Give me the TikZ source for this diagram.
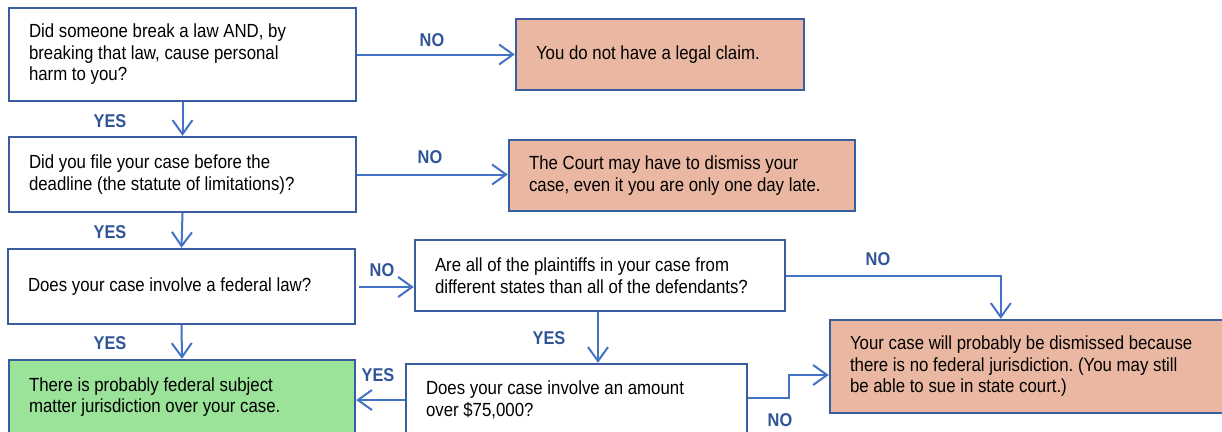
\documentclass[tikz,border=0pt]{standalone}
\usepackage{fontspec}
\setmainfont{Liberation Sans}[FakeStretch=0.885]
\usetikzlibrary{arrows.meta,calc}
\definecolor{boxblue}{HTML}{3A5DA0}
\definecolor{arrblue}{HTML}{4472C4}
\definecolor{lblblue}{HTML}{2F5597}
\definecolor{salmon}{HTML}{EAB8A2}
\definecolor{okgreen}{HTML}{9AE399}
\tikzset{
  qbox/.style n args={2}{draw=boxblue, line width=2.4pt, fill=white,
    minimum width=#1, minimum height=#2, text width=#1-40pt,
    inner xsep=20pt, inner ysep=0pt, align=flush left, anchor=center,
    font=\fontsize{19}{21.5}\selectfont},
  nobox/.style n args={2}{qbox={#1}{#2}, fill=salmon},
  yesbox/.style n args={2}{qbox={#1}{#2}, fill=okgreen},
  conn/.style={draw=arrblue, line width=2pt, -{Straight Barb[length=14pt,width=20pt,line width=2pt]}},
  lbl/.style={text=lblblue, font=\fontsize{18.5}{18.5}\bfseries\selectfont, inner sep=0pt}
}
\begin{document}
\frenchspacing
\begin{tikzpicture}[x=1pt,y=-1pt]
\useasboundingbox (0,0) rectangle (1222,431);
% boxes
\node[qbox={347pt}{93pt}] (A) at (182.5,54.5) {Did someone break a law AND, by\\breaking that law, cause personal\\harm to you?};
\node[nobox={288pt}{71pt}] (B) at (660,54.5) {You do not have a legal claim.};
\node[qbox={347pt}{75pt}] (C) at (182.5,174.5) {Did you file your case before the\\deadline (the statute of limitations)?};
\node[nobox={346pt}{71pt}] (D) at (682,175.5) {The Court may have to dismiss your\\case, even it you are only one day late.};
\node[qbox={347pt}{75pt}] (E) at (181.5,286.5) {Does your case involve a federal law?};
\node[qbox={370pt}{71pt}] (F) at (600,275.5) {Are all of the plaintiffs in your case from\\different states than all of the defendants?};
\node[nobox={396pt}{93pt}] (G) at (1028,366.5) {Your case will probably be dismissed because\\there is no federal jurisdiction. (You may still\\be able to sue in state court.)};
\node[qbox={341pt}{72pt}] (H) at (576.5,400) {Does your case involve an amount\\over \$75,000?};
\node[yesbox={346pt}{74pt}] (I) at (182,397) {There is probably federal subject\\matter jurisdiction over your case.};
% connectors
\draw[conn] (A.east) -- (B.west);
\node[lbl] (nA) at (432,40) {NO};
\draw[conn] (A.south) -- (C.north);
\node[lbl] (yA) at (110,121) {YES};
\draw[conn] (C.east) -- (C.east -| D.west);
\node[lbl] (nC) at (430,157) {NO};
\draw[conn] (C.south) -- (E.north);
\node[lbl] (yC) at (110,232) {YES};
\draw[conn] ($(E.east)+(3,0.5)$) -- ($(E.east -| F.west)+(0,0.5)$);
\node[lbl] (nE) at (382,270) {NO};
\draw[conn] (E.south) -- (I.north);
\node[lbl] (yE) at (110,343) {YES};
\draw[conn] (F.east) -| ($(G.north west)+(172,0)$);
\node[lbl] (nF) at (878,259) {NO};
\draw[conn] ($(F.south)+(-2,0)$) -- ($(F.south |- H.north)+(-2,0)$);
\node[lbl] (yF) at (549,338) {YES};
\draw[conn] (H.west) -- (H.west -| I.east);
\node[lbl] (yH) at (378,375) {YES};
\draw[conn] ($(H.east)+(0,-2)$) -- ++(41,0) |- ($(G.west)+(0,8.5)$);
\node[lbl] (nH) at (780,420) {NO};
\end{tikzpicture}
\end{document}
